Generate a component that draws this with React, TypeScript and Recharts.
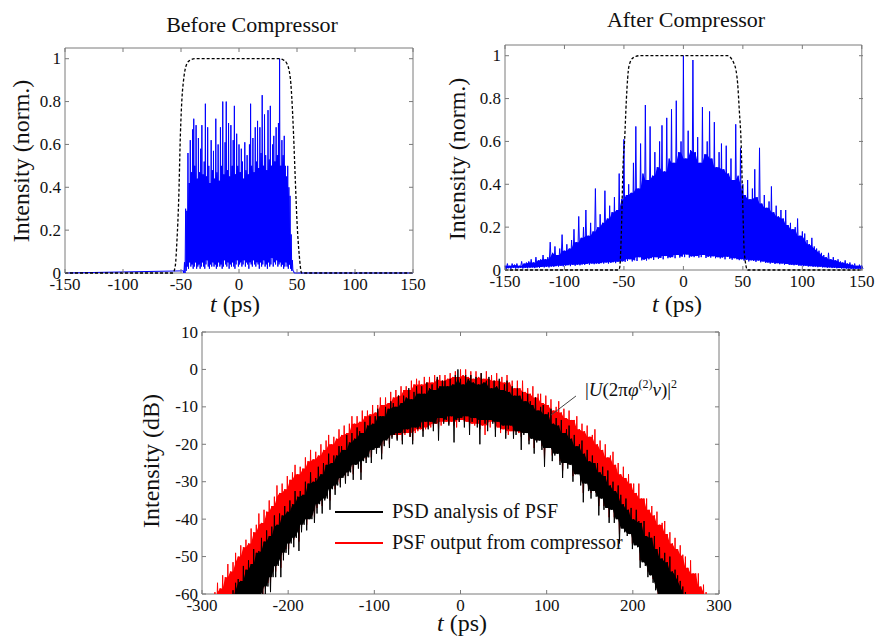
import React from 'react';
import {
  ComposedChart,
  Area,
  Line,
  XAxis,
  YAxis,
  ReferenceArea,
  ReferenceLine,
  Legend,
} from 'recharts';

const W = 878;
const H = 637;
const SERIF = "'Liberation Serif', 'Times New Roman', serif";
const FRAME = '#7a7a7a';
const TICK_LEN = 4;
const TICK_GAP = 4;

const X_TICKS_PULSE = [-150, -100, -50, 0, 50, 100, 150];
const Y_TICKS_PULSE = [0, 0.2, 0.4, 0.6, 0.8, 1];
const X_TICKS_DB = [-300, -200, -100, 0, 100, 200, 300];
const Y_TICKS_DB = [-60, -50, -40, -30, -20, -10, 0, 10];

// Before compressor: blue trace, crest and trough every 1 ps from -48 ps
const BEFORE_T0 = -48;
const BEFORE_DT = 1;
const beforePeak = [
  0.01, 0.05, 0.3, 0.29, 0.56, 0.42, 0.62, 0.47, 0.67, 0.72,
  0.5, 0.69, 0.44, 0.63, 0.47, 0.58, 0.69, 0.46, 0.52, 0.79,
  0.45, 0.68, 0.5, 0.42, 0.62, 0.48, 0.57, 0.44, 0.72, 0.47,
  0.6, 0.43, 0.68, 0.5, 0.8, 0.46, 0.61, 0.8, 0.48, 0.7,
  0.45, 0.69, 0.5, 0.62, 0.78, 0.46, 0.65, 0.5, 0.6, 0.47,
  0.58, 0.52, 0.44, 0.61, 0.48, 0.55, 0.46, 0.6, 0.79, 0.5,
  0.63, 0.47, 0.68, 0.52, 0.71, 0.49, 0.68, 0.56, 0.83, 0.5,
  0.74, 0.55, 0.48, 0.76, 0.53, 0.78, 0.5, 0.6, 0.64, 0.52,
  0.68, 0.55, 0.7, 1.0, 0.5, 0.62, 0.55, 0.64, 0.5, 0.45,
  0.5, 0.4, 0.36, 0.18, 0.06, 0.01, 0,
];
const beforeFloor = [
  0, 0, 0.01, 0.03, 0.02, 0.05, 0.03, 0.04, 0.02, 0.03,
  0.05, 0.02, 0.03, 0.04, 0.02, 0.03, 0.05, 0.03, 0.02, 0.04,
  0.06, 0.03, 0.02, 0.04, 0.03, 0.05, 0.03, 0.04, 0.02, 0.03,
  0.05, 0.03, 0.04, 0.02, 0.03, 0.06, 0.04, 0.03, 0.05, 0.02,
  0.04, 0.03, 0.05, 0.03, 0.02, 0.04, 0.06, 0.03, 0.04, 0.05,
  0.03, 0.04, 0.06, 0.03, 0.05, 0.04, 0.02, 0.05, 0.04, 0.03,
  0.06, 0.04, 0.03, 0.05, 0.04, 0.02, 0.05, 0.03, 0.04, 0.06,
  0.03, 0.04, 0.02, 0.05, 0.03, 0.04, 0.07, 0.03, 0.05, 0.04,
  0.06, 0.03, 0.04, 0.05, 0.03, 0.04, 0.02, 0.03, 0.05, 0.03,
  0.02, 0.04, 0.02, 0.01, 0.01, 0, 0,
];
const beforeGateT = [-150, -57, -55, -53.5, -52, -50.5, -49, -48, -46, -43, -38, 35, 38, 41, 44, 45.5, 47, 48.5, 50, 52, 54, 150];
const beforeGate = [0, 0, 0.03, 0.15, 0.34, 0.65, 0.83, 0.89, 0.96, 0.99, 1, 1, 0.995, 0.98, 0.92, 0.82, 0.65, 0.44, 0.24, 0.08, 0, 0];

// After compressor: blue trace every 2 ps from -150 ps
const AFTER_T0 = -150;
const AFTER_DT = 2;
const afterPeak = [
  0.02, 0.03, 0.02, 0.03, 0.025, 0.03, 0.02, 0.04, 0.03, 0.035,
  0.04, 0.05, 0.035, 0.06, 0.045, 0.05, 0.07, 0.05, 0.06, 0.13,
  0.08, 0.11, 0.07, 0.1, 0.165, 0.09, 0.12, 0.1, 0.14, 0.19,
  0.13, 0.25, 0.15, 0.2, 0.28, 0.16, 0.22, 0.18, 0.38, 0.2,
  0.26, 0.22, 0.37, 0.24, 0.3, 0.27, 0.34, 0.28, 0.45, 0.33,
  0.61, 0.35, 0.4, 0.36, 0.5, 0.67, 0.38, 0.59, 0.45, 0.77,
  0.42, 0.67, 0.44, 0.55, 0.48, 0.6, 0.675, 0.46, 0.71, 0.52,
  0.75, 0.5, 0.79, 0.55, 0.6, 1.0, 0.52, 0.65, 0.56, 0.98,
  0.55, 0.62, 0.5, 0.76, 0.54, 0.6, 0.74, 0.52, 0.69, 0.48,
  0.55, 0.59, 0.47, 0.58, 0.45, 0.52, 0.42, 0.68, 0.44, 0.57,
  0.4, 0.35, 0.42, 0.33, 0.38, 0.47, 0.34, 0.57, 0.31, 0.35,
  0.29, 0.32, 0.39, 0.27, 0.3, 0.25, 0.28, 0.24, 0.28, 0.21,
  0.22, 0.19, 0.2, 0.24, 0.16, 0.18, 0.17, 0.14, 0.12, 0.15,
  0.11, 0.1, 0.09, 0.08, 0.07, 0.06, 0.08, 0.05, 0.06, 0.045,
  0.05, 0.04, 0.035, 0.045, 0.03, 0.035, 0.025, 0.03, 0.02, 0.025,
  0.02,
];
const afterFloor = [
  0.005, 0.008, 0.005, 0.01, 0.006, 0.008, 0.01, 0.007, 0.01, 0.008,
  0.01, 0.012, 0.009, 0.012, 0.01, 0.014, 0.012, 0.015, 0.012, 0.016,
  0.015, 0.018, 0.016, 0.02, 0.017, 0.02, 0.022, 0.018, 0.024, 0.02,
  0.025, 0.022, 0.026, 0.024, 0.028, 0.025, 0.03, 0.027, 0.03, 0.028,
  0.032, 0.03, 0.035, 0.03, 0.033, 0.036, 0.032, 0.038, 0.035, 0.04,
  0.038, 0.042, 0.05, 0.04, 0.045, 0.042, 0.06, 0.045, 0.048, 0.044,
  0.05, 0.055, 0.047, 0.06, 0.052, 0.056, 0.05, 0.065, 0.055, 0.058,
  0.06, 0.055, 0.07, 0.058, 0.062, 0.06, 0.072, 0.058, 0.063, 0.06,
  0.065, 0.058, 0.06, 0.07, 0.056, 0.062, 0.058, 0.064, 0.055, 0.06,
  0.054, 0.058, 0.05, 0.062, 0.052, 0.048, 0.055, 0.05, 0.046, 0.05,
  0.044, 0.048, 0.04, 0.045, 0.042, 0.038, 0.044, 0.036, 0.04, 0.034,
  0.035, 0.03, 0.034, 0.028, 0.032, 0.027, 0.03, 0.025, 0.028, 0.024,
  0.025, 0.022, 0.024, 0.02, 0.021, 0.018, 0.02, 0.016, 0.018, 0.015,
  0.016, 0.013, 0.015, 0.012, 0.013, 0.01, 0.012, 0.009, 0.01, 0.008,
  0.009, 0.007, 0.008, 0.006, 0.007, 0.005, 0.006, 0.005, 0.006, 0.004,
  0.005,
];
const afterGateT = [-150, -55, -53.6, -52.2, -50.8, -49.4, -48, -45.8, -42.4, -37, 37, 42.8, 45.6, 47, 48.4, 49.8, 51.2, 54, 150];
const afterGate = [0, 0, 0.01, 0.17, 0.48, 0.61, 0.79, 0.95, 0.99, 1, 1, 0.96, 0.87, 0.745, 0.61, 0.33, 0.08, 0, 0];

// dB panel: crest / trough of each trace every 3 ps from -288 ps
const DB_T0 = -288;
const DB_DT = 3;
const psdTop = [
  -70, -70, -70, -70, -69, -67, -64, -61, -59, -57,
  -56, -56.5, -52.5, -53.5, -51, -52, -48, -49, -48.5, -45,
  -46, -43, -44.5, -42, -39, -41.5, -38.5, -39, -36.5, -38,
  -35, -36, -32.5, -34, -32.5, -33.5, -30, -30.5, -27.5, -30,
  -29, -26, -28, -25, -25.5, -22.5, -25, -23, -23, -20.5,
  -20.5, -21.5, -17.5, -19.5, -17, -18.5, -15.5, -16.5, -17, -14,
  -15, -12.5, -14.5, -12.5, -10.5, -12.5, -12.5, -10, -10.5, -8.5,
  -9, -10, -7, -9, -7, -7.5, -5, -8, -6, -4.5,
  -6.5, -4.5, -6.5, -3.5, -5, -4, -5.5, -2, -4.5, -3,
  -3, -4.5, -2.5, -4, -1.5, 0, -2.5, -4, -1.5, -2.5,
  -1.5, -3.5, -2, -4, -1, -3.5, -3, -2, -5, -3,
  -4.5, -2.5, -5.5, -4, -3, -6, -4.5, -7, -5, -7,
  -6, -8.5, -6.5, -8.5, -9.5, -7.5, -11, -10, -9.5, -12,
  -11.5, -10.5, -14.5, -13, -15, -13.5, -17, -16, -15, -18.5,
  -17.5, -20.5, -20, -19, -22.5, -21.5, -24.5, -23, -25, -25,
  -27.5, -26, -28.5, -27, -31, -30, -32.5, -31, -33.5, -36,
  -34.5, -37.5, -37, -40, -37.5, -40.5, -41, -40.5, -44.5, -43.5,
  -45, -44.5, -48, -47.5, -50.5, -49, -51.5, -50, -54, -53.5,
  -55, -56.5, -58, -59.5, -62, -66, -70, -70, -70, -70,
  -70, -70, -70,
];
const psdBottom = [
  -70, -70, -70, -70, -70, -70, -70, -70, -70, -70,
  -70, -70, -70, -70, -70, -70, -70, -68, -64, -61,
  -60, -58, -59.5, -55.5, -55.5, -52.5, -55.5, -51, -49, -49.5,
  -46.5, -47.5, -45, -48.5, -43.5, -41.5, -43, -40, -40, -41,
  -38.5, -36, -38.5, -35, -34.5, -37.5, -32, -33.5, -31, -31.5,
  -29, -30.5, -28.5, -27.5, -29.5, -25.5, -26.5, -29.5, -24.5, -25,
  -23.5, -25, -21.5, -22.5, -21, -24, -20.5, -19, -21, -18.5,
  -17.5, -19, -17, -20, -17, -16, -18, -20, -15.5, -16,
  -15.5, -18, -14, -16, -14, -16.5, -14.5, -19, -13, -14.5,
  -13.5, -15, -12.5, -19.5, -13.5, -14, -13, -15.5, -12.5, -17.5,
  -14, -13, -15.5, -20, -13.5, -14.5, -16.5, -13.5, -14.5, -18,
  -14, -16, -15, -18.5, -16, -15, -18.5, -17.5, -16.5, -21.5,
  -17.5, -17, -20, -18.5, -22.5, -19.5, -19, -21.5, -26, -21,
  -21, -24.5, -23, -22.5, -25.5, -29, -25, -26.5, -25.5, -30,
  -28, -28, -31, -35.5, -30.5, -32.5, -34.5, -32.5, -34, -39,
  -34.5, -37.5, -37, -41, -37.5, -41, -40, -46.5, -42.5, -43.5,
  -44.5, -44, -48, -47, -47.5, -53, -51.5, -52.5, -55.5, -55,
  -57, -59, -61, -64, -70, -70, -70, -70, -70, -70,
  -70, -70, -70, -70, -70, -70, -70, -70, -70, -70,
  -70, -70, -70,
];
const psfTop = [
  -62, -59.5, -57, -58.5, -55, -55.5, -52, -54, -51.5, -49,
  -50, -47, -47.5, -45.5, -46.5, -42.5, -43.5, -41.5, -38.5, -41,
  -37.5, -38, -35, -36.5, -34, -31, -33, -30.5, -32, -28.5,
  -29.5, -27.5, -25.5, -28, -26, -26.5, -23.5, -24.5, -21.5, -24,
  -22, -23, -20, -21.5, -19, -17.5, -20, -18, -18.5, -16,
  -17.5, -15, -17, -14.5, -12.5, -14.5, -12.5, -14, -11, -12.5,
  -11, -12, -9.5, -11.5, -9.5, -7.5, -9.5, -7.5, -9, -6,
  -7.5, -5.5, -7, -4.5, -5.5, -4.5, -5.5, -3, -4, -2.5,
  -3, -4, -2, -3.5, -2, -3.5, -1.5, -2.5, -1.5, -3,
  -1.5, -2.5, -1, -2, -0.5, -2, 0, -1.5, 0, -2,
  -0.5, -2.5, -0.5, -2, -1, -2.5, -0.5, -2.5, -1.5, -3,
  -1, -3, -2, -3.5, -1.5, -3.5, -3, -5, -3, -5,
  -3, -6, -5, -6.5, -4.5, -7.5, -6.5, -6.5, -9, -7,
  -9.5, -8, -11, -10, -8.5, -11.5, -10.5, -13, -11, -13.5,
  -13.5, -12.5, -16, -14.5, -16.5, -15, -18, -17.5, -16, -20,
  -19, -21.5, -20, -23.5, -23, -22, -25.5, -25, -28, -26,
  -29, -28, -30.5, -30.5, -33, -30.5, -34.5, -34.5, -34.5, -37.5,
  -36.5, -39, -38, -41.5, -41, -40.5, -44, -43.5, -46.5, -45,
  -48, -47, -49.5, -50, -53, -51, -54.5, -54.5, -54.5, -58,
  -57.5, -59.5, -62,
];
const psfBottom = [
  -70, -70, -70, -70, -70, -70, -70, -70, -70, -70,
  -70, -70, -70, -70, -70, -70, -70, -67, -63, -60,
  -58.5, -57, -57, -54, -54, -51.5, -53, -49.5, -48, -48,
  -45, -45.5, -44, -46, -42, -40.5, -41.5, -39, -39, -39.5,
  -37, -35, -36.5, -34, -33.5, -35, -31, -32, -30, -30.5,
  -28, -29, -27.5, -26.5, -28, -25, -25.5, -27.5, -24, -24,
  -22.5, -23.5, -21, -21.5, -20.5, -22.5, -20, -18.5, -20, -18,
  -17.5, -18.5, -17.5, -19, -17.5, -17, -18, -19, -17, -16.5,
  -16, -16.5, -16, -15.5, -15.5, -15, -14.5, -16, -15, -14,
  -14, -14.5, -14, -15, -15.5, -14, -13.5, -14, -14, -15,
  -14.5, -15, -14.5, -16, -15, -17.5, -15, -15.5, -14, -16,
  -15.5, -17, -16, -17, -17.5, -16.5, -17.5, -16.5, -17, -18,
  -17, -16.5, -19, -18, -21, -19, -18.5, -20.5, -24, -20.5,
  -20.5, -23, -22, -22, -24.5, -27, -24, -25.5, -25, -28.5,
  -27.5, -27.5, -30, -33, -30, -31.5, -33, -32, -33, -36.5,
  -34, -36.5, -36, -39.5, -37, -39.5, -39, -44, -41.5, -42.5,
  -43.5, -43.5, -46.5, -46, -46.5, -51, -50.5, -51.5, -54, -54,
  -56, -58, -60, -63, -70, -70, -70, -70, -70, -70,
  -70, -70, -70, -70, -70, -70, -70, -70, -70, -70,
  -70, -70, -70,
];

const LEGEND_ORDER = ['PSD analysis of PSF', 'PSF output from compressor'];

// an oscillating trace: crest at each sample, trough half a step later
function oscillation(t0: number, dt: number, crest: number[], trough: number[]) {
  const rows: { t: number; v: number }[] = [];
  crest.forEach((c, i) => {
    const t = t0 + i * dt;
    rows.push({ t, v: c });
    rows.push({ t: t + dt / 2, v: trough[i] });
  });
  return rows;
}

// the densely filled body of the trace: lowest neighbouring crest, highest neighbouring trough
function body(t0: number, dt: number, crest: number[], trough: number[]) {
  const n = crest.length;
  return crest.map((_, i) => {
    const a = Math.max(i - 1, 0);
    const b = Math.min(i + 1, n - 1);
    const lo = Math.max(trough[a], trough[i], trough[b]);
    const hi = Math.min(crest[a], crest[i], crest[b]);
    return { t: t0 + i * dt, band: [lo, Math.max(lo, hi)] };
  });
}

const beforeRows = [
  { t: -150, v: 0 },
  ...oscillation(BEFORE_T0, BEFORE_DT, beforePeak, beforeFloor),
  { t: 150, v: 0 },
];
const beforeBody = body(BEFORE_T0, BEFORE_DT, beforePeak, beforeFloor);
const beforeGateRows = beforeGateT.map((t, i) => ({ t, v: beforeGate[i] }));
const afterRows = oscillation(AFTER_T0, AFTER_DT, afterPeak, afterFloor);
const afterBody = body(AFTER_T0, AFTER_DT, afterPeak, afterFloor);
const afterGateRows = afterGateT.map((t, i) => ({ t, v: afterGate[i] }));
const psdRows = oscillation(DB_T0, DB_DT, psdTop, psdBottom);
const psdBody = body(DB_T0, DB_DT, psdTop, psdBottom);
const psfRows = oscillation(DB_T0, DB_DT, psfTop, psfBottom);
const psfBody = body(DB_T0, DB_DT, psfTop, psfBottom);

const tickStyle = { fontFamily: SERIF };

// inward MATLAB-style ticks, mirrored on the opposite side of the box
const bottomTick = (plotH: number) => (props: any) => {
  const { x, y, payload } = props;
  const axisY = y - TICK_GAP;
  return (
    <g>
      <line x1={x} x2={x} y1={axisY} y2={axisY - TICK_LEN} stroke={FRAME} />
      <line x1={x} x2={x} y1={axisY - plotH} y2={axisY - plotH + TICK_LEN} stroke={FRAME} />
      <text x={x} y={y} dy="0.75em" textAnchor="middle" fontSize={17} fill="#111" style={tickStyle}>
        {payload.value}
      </text>
    </g>
  );
};

const leftTick = (plotW: number) => (props: any) => {
  const { x, y, payload } = props;
  const axisX = x + TICK_GAP;
  return (
    <g>
      <line x1={axisX} x2={axisX + TICK_LEN} y1={y} y2={y} stroke={FRAME} />
      <line x1={axisX + plotW} x2={axisX + plotW - TICK_LEN} y1={y} y2={y} stroke={FRAME} />
      <text x={x} y={y} dy="0.33em" textAnchor="end" fontSize={17} fill="#111" style={tickStyle}>
        {payload.value}
      </text>
    </g>
  );
};

const layer: React.CSSProperties = { position: 'absolute', left: 0, top: 0 };

function PulsePanel({ rows, bodyRows, gateRows, margin, plotW, plotH }: any) {
  return (
    <div style={layer}>
      <ComposedChart width={W} height={H} margin={margin}>
        <XAxis
          type="number"
          dataKey="t"
          domain={[-150, 150]}
          ticks={X_TICKS_PULSE}
          interval={0}
          height={30}
          tickSize={0}
          tickMargin={TICK_GAP}
          axisLine={false}
          tickLine={false}
          tick={bottomTick(plotH)}
        />
        <YAxis
          type="number"
          domain={[0, 1.05]}
          ticks={Y_TICKS_PULSE}
          interval={0}
          width={40}
          tickSize={0}
          tickMargin={TICK_GAP}
          axisLine={false}
          tickLine={false}
          tick={leftTick(plotW)}
        />
        <ReferenceArea x1={-150} x2={150} y1={0} y2={1.05} fill="none" stroke={FRAME} />
        <Area
          data={bodyRows}
          dataKey="band"
          type="linear"
          stroke="none"
          fill="#0000ff"
          fillOpacity={1}
          zIndex={410}
          dot={false}
          activeDot={false}
          isAnimationActive={false}
        />
        <Line
          data={rows}
          dataKey="v"
          type="linear"
          stroke="#0000ff"
          strokeWidth={1}
          zIndex={420}
          dot={false}
          activeDot={false}
          isAnimationActive={false}
        />
        <Line
          data={gateRows}
          dataKey="v"
          type="monotone"
          stroke="#000"
          strokeWidth={1.3}
          strokeDasharray="3 2"
          zIndex={430}
          dot={false}
          activeDot={false}
          isAnimationActive={false}
        />
      </ComposedChart>
    </div>
  );
}

const renderLegend = (props: any) => {
  const payload = props.payload || [];
  const items = LEGEND_ORDER.map((n) => payload.find((p: any) => p.value === n)).filter(Boolean);
  return (
    <div style={{ fontFamily: SERIF, fontSize: 20, color: '#111' }}>
      {items.map((item: any) => (
        <div key={item.value} style={{ display: 'flex', alignItems: 'center', height: 31 }}>
          <span style={{ display: 'inline-block', width: 48, borderTop: `2px solid ${item.color}`, marginRight: 9 }} />
          <span style={{ fontFamily: SERIF }}>{item.value}</span>
        </div>
      ))}
    </div>
  );
};

function DbPanel() {
  return (
    <div style={layer}>
      <ComposedChart width={W} height={H} margin={{ top: 332, right: 159, bottom: 13, left: 162 }}>
        <XAxis
          type="number"
          dataKey="t"
          domain={[-300, 300]}
          ticks={X_TICKS_DB}
          interval={0}
          height={30}
          tickSize={0}
          tickMargin={TICK_GAP}
          axisLine={false}
          tickLine={false}
          tick={bottomTick(262)}
        />
        <YAxis
          type="number"
          domain={[-60, 10]}
          allowDataOverflow
          ticks={Y_TICKS_DB}
          interval={0}
          width={40}
          tickSize={0}
          tickMargin={TICK_GAP}
          axisLine={false}
          tickLine={false}
          tick={leftTick(517)}
        />
        <ReferenceArea x1={-300} x2={300} y1={-60} y2={10} fill="none" stroke={FRAME} />
        <Area
          data={psfBody}
          dataKey="band"
          type="linear"
          stroke="none"
          fill="#ff0000"
          fillOpacity={1}
          legendType="none"
          zIndex={410}
          dot={false}
          activeDot={false}
          isAnimationActive={false}
        />
        <Line
          name="PSF output from compressor"
          data={psfRows}
          dataKey="v"
          type="linear"
          stroke="#ff0000"
          strokeWidth={1}
          zIndex={420}
          dot={false}
          activeDot={false}
          isAnimationActive={false}
        />
        <Area
          data={psdBody}
          dataKey="band"
          type="linear"
          stroke="none"
          fill="#000000"
          fillOpacity={1}
          legendType="none"
          zIndex={430}
          dot={false}
          activeDot={false}
          isAnimationActive={false}
        />
        <Line
          name="PSD analysis of PSF"
          data={psdRows}
          dataKey="v"
          type="linear"
          stroke="#000000"
          strokeWidth={1}
          zIndex={440}
          dot={false}
          activeDot={false}
          isAnimationActive={false}
        />
        <ReferenceLine
          segment={[{ x: 105, y: -12.2 }, { x: 134, y: -7.1 }]}
          stroke="#444"
          ifOverflow="visible"
          zIndex={450}
        />
        <Legend
          layout="vertical"
          align="center"
          verticalAlign="middle"
          wrapperStyle={{ left: 335, top: 496, width: 320 }}
          content={renderLegend}
        />
      </ComposedChart>
    </div>
  );
}

function Labels() {
  const axisTitle = { fontSize: 24, fill: '#111', style: { fontFamily: SERIF } };
  const title = { fontSize: 22, fill: '#111', style: { fontFamily: SERIF } };
  return (
    <svg width={W} height={H} style={layer}>
      <text x={252} y={32} textAnchor="middle" {...title}>Before Compressor</text>
      <text x={686} y={27} textAnchor="middle" {...title}>After Compressor</text>
      <text transform="translate(29,161) rotate(-90)" textAnchor="middle" {...axisTitle}>Intensity (norm.)</text>
      <text transform="translate(465,159) rotate(-90)" textAnchor="middle" {...axisTitle}>Intensity (norm.)</text>
      <text transform="translate(159,461) rotate(-90)" textAnchor="middle" {...axisTitle}>Intensity (dB)</text>
      <text x={235} y={312} textAnchor="middle" {...axisTitle}>
        <tspan fontStyle="italic">t</tspan> (ps)
      </text>
      <text x={677} y={312} textAnchor="middle" {...axisTitle}>
        <tspan fontStyle="italic">t</tspan> (ps)
      </text>
      <text x={462} y={631} textAnchor="middle" {...axisTitle}>
        <tspan fontStyle="italic">t</tspan> (ps)
      </text>
      <text x={585} y={396} fontSize={19} fill="#111" style={{ fontFamily: SERIF }}>
        |<tspan fontStyle="italic">U</tspan>(2π<tspan fontStyle="italic">φ</tspan>
        <tspan fontSize={12} dy={-8}>(2)</tspan>
        <tspan dy={8} fontStyle="italic">ν</tspan>)|
        <tspan fontSize={12} dy={-8}>2</tspan>
      </text>
    </svg>
  );
}

export default function App() {
  return (
    <div style={{ position: 'absolute', left: 0, top: 0, width: W, height: H, background: '#fff' }}>
      <PulsePanel
        rows={beforeRows}
        bodyRows={beforeBody}
        gateRows={beforeGateRows}
        margin={{ top: 48, right: 465, bottom: 334, left: 25 }}
        plotW={348}
        plotH={225}
      />
      <PulsePanel
        rows={afterRows}
        bodyRows={afterBody}
        gateRows={afterGateRows}
        margin={{ top: 45, right: 15, bottom: 337, left: 465 }}
        plotW={358}
        plotH={225}
      />
      <DbPanel />
      <Labels />
    </div>
  );
}
